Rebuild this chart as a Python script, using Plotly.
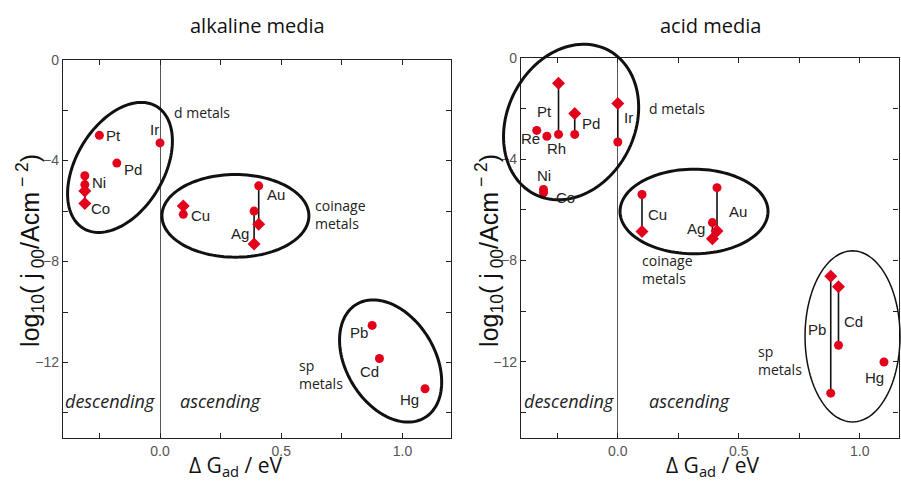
import numpy as np
import plotly.graph_objects as go

W, H = 901, 482

# ---------------- data ----------------
alk_metals = ["Pt", "Ir", "Pd", "Ni", "Co", "Cu", "Au", "Ag", "Pb", "Cd", "Hg"]
alk_dG = [-0.25, 0.0, -0.178, -0.31, -0.31, 0.096, 0.407, 0.388, 0.875, 0.905, 1.093]
alk_circle = [-3.0, -3.3, -4.1, -4.6, -4.95, -6.13, -5.0, -6.0, -10.53, -11.84, -13.04]
alk_diamond = [None, None, None, -5.2, -5.7, -5.8, -6.52, -7.3, None, None, None]

acid_metals = ["Pt", "Pd", "Ir", "Re", "Rh", "Ni", "Co", "Cu", "Au", "Ag", "Pb", "Cd", "Hg"]
acid_dG = [-0.245, -0.178, 0.0, -0.335, -0.293, -0.307, -0.307, 0.10, 0.41, 0.391, 0.88, 0.912, 1.10]
acid_circle = [-3.03, -3.03, -3.33, -2.87, -3.1, -5.2, -5.33, -5.4, -5.13, -6.51, -13.24, -11.35, -12.01]
acid_diamond = [-1.01, -2.2, -1.81, None, None, None, None, -6.86, -6.84, -7.15, -8.63, -9.04, None]

x_tickvals = [-0.25, 0.0, 0.25, 0.5, 0.75, 1.0]
x_ticktext = ["", "0.0", "", "0.5", "", "1.0"]
y_tickvals = [0, -2, -4, -6, -8, -10, -12, -14]
y_ticktext = ["0", "", "\u22124", "", "\u22128", "", "\u221212", ""]

# ---------------- layout geometry / styles ----------------
RED = "#e2001a"
panels = {
    "alk": dict(xd=[63 / W, 451 / W], yd=[44.5 / H, 429.5 / H], xr=[-0.4, 1.2], yr=[-15, 0], xa="x", ya="y"),
    "acid": dict(xd=[521 / W, 898.5 / W], yd=[45 / H, 431.5 / H], xr=[-0.4, 1.16], yr=[-15, 0], xa="x2", ya="y2"),
}

# label offsets (px): dx, dy (up positive), anchor
alk_label_pos = {
    "Pt": (5, 0, "left"), "Ir": (1, 13, "right"), "Pd": (5, -6, "left"),
    "Ni": (5, -6.5, "left"), "Co": (4, -5.5, "left", "d"), "Cu": (6, -1, "left"),
    "Au": (6, -9, "left"), "Ag": (-3, -22.5, "right"), "Pb": (-2.5, -7, "right"),
    "Cd": (-10, -13.5, "center"), "Hg": (-4, -10.5, "right"),
}
acid_label_pos = {
    "Pt": (-5, 23, "right"), "Pd": (5, 10.5, "left"), "Ir": (4, 25, "left"),
    "Re": (5, -8.5, "right"), "Rh": (-1.5, -12.5, "left"), "Ni": (0, 13.5, "center"),
    "Co": (10, -4.5, "left"), "Cu": (4.5, -20, "left"), "Au": (9.5, -24, "left"),
    "Ag": (-5.5, -5.5, "right"), "Pb": (-3, 63.5, "right"), "Cd": (4, 24, "left"),
    "Hg": (2.5, -15.5, "right"),
}

# ellipses: (panel, center_x, center_y [data], a_px, b_px, angle_deg, width)
ellipses = [
    ("alk", -0.165, -4.27, 72, 44, 60, 3),
    ("alk", 0.311, -6.19, 73.5, 42, 0, 3),
    ("alk", 0.951, -11.94, 67, 44.5, -60, 3),
    ("acid", -0.193, -2.54, 82, 64, 65, 3),
    ("acid", 0.315, -6.07, 74, 43, 0, 3),
    ("acid", 0.970, -11.0, 87, 47.5, 90, 1.5),
]


def to_px(p, x, y):
    px = (p["xd"][0] + (x - p["xr"][0]) / (p["xr"][1] - p["xr"][0]) * (p["xd"][1] - p["xd"][0])) * W
    py = (p["yd"][0] + (y - p["yr"][0]) / (p["yr"][1] - p["yr"][0]) * (p["yd"][1] - p["yd"][0])) * H
    return px, py


fig = go.Figure()


def add_panel(key, metals, dG, circ, diam, label_pos):
    p = panels[key]
    xa, ya = p["xa"], p["ya"]
    # connecting lines
    lx, ly = [], []
    for x, c, d in zip(dG, circ, diam):
        if c is not None and d is not None:
            lx += [x, x, None]
            ly += [c, d, None]
    fig.add_trace(go.Scatter(x=lx, y=ly, mode="lines", line=dict(color="#111", width=1.6),
                             xaxis=xa, yaxis=ya, hoverinfo="skip"))
    fig.add_trace(go.Scatter(x=dG, y=circ, mode="markers",
                             marker=dict(symbol="circle", size=9, color=RED),
                             xaxis=xa, yaxis=ya, cliponaxis=False))
    fig.add_trace(go.Scatter(x=dG, y=diam, mode="markers",
                             marker=dict(symbol="diamond", size=10, color=RED),
                             xaxis=xa, yaxis=ya, cliponaxis=False))
    for m, x, c, d in zip(metals, dG, circ, diam):
        lp = label_pos[m]
        yref_val = d if (len(lp) > 3 and d is not None) else c
        fig.add_annotation(x=x, y=yref_val, xref=xa, yref=ya, text=m, showarrow=False,
                           xanchor=lp[2], yanchor="middle", xshift=lp[0], yshift=lp[1],
                           font=dict(family="Liberation Sans, Arial", size=15, color="#222"))


add_panel("alk", alk_metals, alk_dG, alk_circle, alk_diamond, alk_label_pos)
add_panel("acid", acid_metals, acid_dG, acid_circle, acid_diamond, acid_label_pos)

# ellipses as paper-referenced paths (not clipped)
t = np.linspace(0, 2 * np.pi, 121)
for key, cx, cy, a, b, ang, lw in ellipses:
    p = panels[key]
    px0, py0 = to_px(p, cx, cy)
    th = np.deg2rad(ang)
    X = px0 + a * np.cos(t) * np.cos(th) - b * np.sin(t) * np.sin(th)
    Y = py0 + a * np.cos(t) * np.sin(th) + b * np.sin(t) * np.cos(th)
    path = "M " + " L ".join(f"{xx / W:.5f},{yy / H:.5f}" for xx, yy in zip(X, Y)) + " Z"
    fig.add_shape(type="path", path=path, xref="paper", yref="paper",
                  line=dict(color="#111", width=lw), layer="above")

axis_common = dict(showline=True, linecolor="#222", linewidth=1.3, mirror="ticks",
                   ticks="inside", ticklen=5, tickcolor="#222", tickwidth=1.1, showgrid=False,
                   tickfont=dict(family="Liberation Sans, Arial", size=14, color="#555"))

for key, p in panels.items():
    xname = "xaxis" if p["xa"] == "x" else "xaxis2"
    yname = "yaxis" if p["ya"] == "y" else "yaxis2"
    fig.layout[xname] = dict(axis_common, domain=p["xd"], range=p["xr"], anchor=p["ya"],
                             tickvals=x_tickvals, ticktext=x_ticktext,
                             zeroline=True, zerolinecolor="#555", zerolinewidth=1.2)
    fig.layout[yname] = dict(axis_common, domain=p["yd"], range=p["yr"], anchor=p["xa"],
                             tickvals=y_tickvals, ticktext=y_ticktext, zeroline=False)


def pap(px, py):
    return px / W, 1 - py / H


def text_ann(px, py, text, size, family="Open Sans", xanchor="left", italic=False, angle=0, color="#222", align="left"):
    x, y = pap(px, py)
    fig.add_annotation(x=x, y=y, xref="paper", yref="paper", text=text, showarrow=False,
                       xanchor=xanchor, yanchor="middle", textangle=angle, align=align,
                       font=dict(family=family, size=size, color=color,
                                 style="italic" if italic else "normal"))


# group labels
text_ann(172, 106, "d metals", 14)
text_ann(313, 210, "coinage<br>metals", 14)
text_ann(297, 373, "sp<br>metals", 14)
text_ann(647, 102, "d metals", 14)
text_ann(640, 266, "coinage<br>metals", 14)
text_ann(756, 358, "sp<br>metals", 14)

# region labels
text_ann(63, 400, "descending", 18, italic=True)
text_ann(178, 400, "ascending", 18, italic=True)
text_ann(522, 400, "descending", 18, italic=True)
text_ann(647, 400, "ascending", 18, italic=True)

# titles
text_ann(257, 18, "alkaline media", 20, xanchor="center", color="#111")
text_ann(710, 18, "acid media", 20, xanchor="center", color="#111")

# axis titles
xt = "\u0394 G<sub>ad</sub> / eV"
text_ann(235, 466, xt, 21, xanchor="center", color="#111")
text_ann(712, 466, xt, 21, xanchor="center", color="#111")
yt = "log<sub>10</sub>( j<sub> 00</sub>/Acm<sup> \u2212 2</sup>)"
text_ann(30, 247, yt, 25, family="Liberation Sans, Arial", xanchor="center", angle=-90, color="#111")
text_ann(489, 247, yt, 25, family="Liberation Sans, Arial", xanchor="center", angle=-90, color="#111")

fig.update_layout(width=W, height=H, margin=dict(l=0, r=0, t=0, b=0),
                  paper_bgcolor="white", plot_bgcolor="white", showlegend=False,
                  hovermode=False)

fig.write_html("out.html")
